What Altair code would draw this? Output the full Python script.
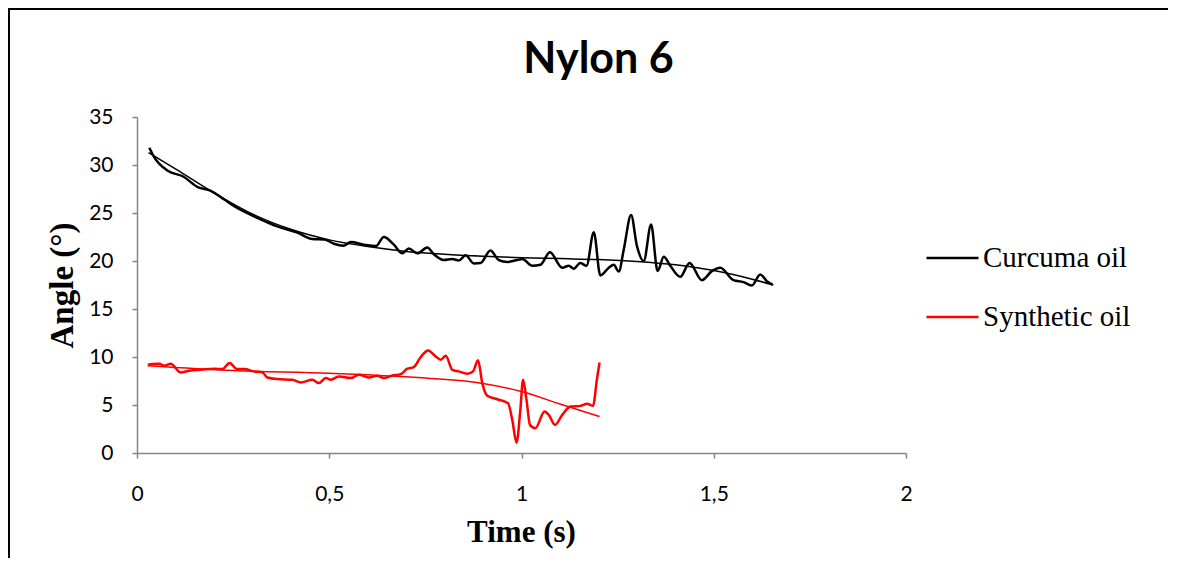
import altair as alt
import pandas as pd

# ---------------- data ----------------
series_names = ["Curcuma oil", "Synthetic oil"]
series_colors = ["#000000", "#FF0000"]

cur_t = [0.032, 0.045, 0.080, 0.120, 0.158, 0.192, 0.227, 0.253, 0.313, 0.365,
         0.417, 0.456, 0.487, 0.512, 0.538, 0.556, 0.590, 0.621, 0.642, 0.668,
         0.690, 0.707, 0.729, 0.755, 0.772, 0.798, 0.820, 0.837, 0.855, 0.876,
         0.894, 0.919, 0.941, 0.963, 0.989, 1.002, 1.028, 1.049, 1.074, 1.106,
         1.123, 1.136, 1.153, 1.169, 1.188, 1.205, 1.227, 1.240, 1.253, 1.266,
         1.285, 1.300, 1.318, 1.337, 1.354, 1.370, 1.387, 1.413, 1.437, 1.469,
         1.495, 1.517, 1.551, 1.577, 1.599, 1.621, 1.638, 1.653]
cur_v = [31.8, 30.8, 29.4, 28.8, 27.7, 27.3, 26.4, 25.7, 24.5, 23.6,
         22.95, 22.3, 22.25, 21.8, 21.6, 21.97, 21.7, 21.55, 22.5, 21.7,
         20.8, 21.3, 20.8, 21.4, 20.7, 20.1, 20.2, 20.06, 20.6, 19.75,
         19.8, 21.1, 20.1, 19.9, 20.1, 20.2, 19.5, 19.6, 20.9, 19.3,
         19.5, 19.2, 19.8, 19.5, 23.0, 18.5, 19.3, 19.6, 18.9, 21.2,
         24.8, 21.6, 20.0, 23.8, 18.95, 20.45, 19.5, 18.35, 19.8, 18.0,
         18.95, 19.3, 18.0, 17.8, 17.45, 18.6, 17.9, 17.55]

syn_t = [0.028, 0.041, 0.058, 0.071, 0.088, 0.113, 0.136, 0.166, 0.201, 0.222,
         0.241, 0.260, 0.279, 0.305, 0.326, 0.339, 0.365, 0.404, 0.426, 0.456,
         0.473, 0.491, 0.504, 0.525, 0.556, 0.577, 0.603, 0.625, 0.642, 0.664,
         0.686, 0.703, 0.720, 0.738, 0.757, 0.777, 0.790, 0.803, 0.820, 0.837,
         0.859, 0.874, 0.887, 0.898, 0.911, 0.937, 0.965, 0.976, 0.987, 0.997,
         1.004, 1.013, 1.022, 1.036, 1.060, 1.071, 1.087, 1.106, 1.127, 1.153,
         1.171, 1.186, 1.196, 1.203]
syn_v = [9.19, 9.26, 9.3, 9.09, 9.3, 8.39, 8.57, 8.67, 8.78, 8.74,
         9.37, 8.74, 8.74, 8.5, 8.4, 7.87, 7.7, 7.63, 7.35, 7.63,
         7.28, 7.8, 7.63, 7.97, 7.8, 8.15, 7.87, 8.05, 7.8, 8.08,
         8.22, 8.78, 8.95, 10.0, 10.69, 10.06, 9.72, 10.13, 8.67, 8.5,
         8.25, 8.5, 9.65, 7.28, 5.96, 5.6, 5.19, 3.45, 1.08, 4.5,
         7.63, 5.54, 2.93, 2.58, 4.32, 3.97, 2.93, 3.97, 4.84, 4.91,
         5.12, 4.91, 7.63, 9.43]

# trend lines
cur_trend_t = [0.03, 0.1, 0.2, 0.3, 0.4, 0.5, 0.6, 0.7, 0.8, 0.9,
               1.0, 1.1, 1.2, 1.3, 1.4, 1.5, 1.6, 1.655]
cur_trend_v = [31.3, 29.6, 27.1, 24.9, 23.3, 22.2, 21.5, 21.0, 20.7, 20.5,
               20.35, 20.25, 20.15, 19.95, 19.6, 19.0, 18.1, 17.5]
syn_trend_t = [0.028, 0.25, 0.5, 0.75, 0.9, 1.0, 1.1, 1.203]
syn_trend_v = [9.1, 8.6, 8.3, 7.8, 7.25, 6.4, 5.1, 3.8]

x_ticks = [0, 0.5, 1, 1.5, 2]
y_ticks = [0, 5, 10, 15, 20, 25, 30, 35]

# ---------------- tables ----------------
raw = pd.DataFrame({
    "t": cur_t + syn_t,
    "v": cur_v + syn_v,
    "series": [series_names[0]] * len(cur_t) + [series_names[1]] * len(syn_t),
})
trend = pd.DataFrame({
    "t": cur_trend_t + syn_trend_t,
    "v": cur_trend_v + syn_trend_v,
    "series": [series_names[0]] * len(cur_trend_t) + [series_names[1]] * len(syn_trend_t),
})
frame_df = pd.DataFrame({"k": [0]})

AXIS_GREY = "#868686"
SANS = "Lato"
SERIF = "Liberation Serif"

x_enc = alt.X(
    "t:Q",
    scale=alt.Scale(domain=[0, 2], nice=False),
    axis=alt.Axis(
        values=x_ticks, title="Time (s)", grid=False, format="~g",
        labelExpr="replace(datum.label, '.', ',')", labelFlush=False,
        labelFont=SANS, labelFontSize=21, labelColor="#000000", labelPadding=25,
        tickSize=5, tickColor=AXIS_GREY, tickWidth=1.5,
        domainColor=AXIS_GREY, domainWidth=1.5,
        titleFont=SERIF, titleFontSize=31, titleFontWeight="bold", titleColor="#000000",
        titleX=384, titleY=88, titleBaseline="alphabetic", titleAlign="center",
    ),
)
y_enc = alt.Y(
    "v:Q",
    scale=alt.Scale(domain=[0, 35], nice=False),
    axis=alt.Axis(
        values=y_ticks, title="Angle (°)", grid=False, labelFlush=False,
        labelFont=SANS, labelFontSize=21, labelColor="#000000", labelPadding=19,
        tickSize=5, tickColor=AXIS_GREY, tickWidth=1.5,
        domainColor=AXIS_GREY, domainWidth=1.5,
        titleFont=SERIF, titleFontSize=33, titleFontWeight="bold", titleColor="#000000",
        titleX=-65, titleY=168, titleAngle=270, titleBaseline="alphabetic", titleAlign="center",
    ),
)
color_enc = alt.Color(
    "series:N",
    scale=alt.Scale(domain=series_names, range=series_colors),
    legend=alt.Legend(
        title=None, orient="none", legendX=788, legendY=121,
        symbolType="stroke", symbolSize=2704, symbolStrokeWidth=2.5,
        labelFont=SERIF, labelFontSize=29, labelColor="#000000",
        labelOffset=3, rowPadding=19, clipHeight=40, padding=0,
    ),
)

# outer chart frame: left and top edges (the rest lies outside the picture)
frame_left = alt.Chart(frame_df).mark_rect(color="#000000").encode(
    x=alt.value(-129), x2=alt.value(-127), y=alt.value(-109), y2=alt.value(445),
)
frame_top = alt.Chart(frame_df).mark_rect(color="#000000").encode(
    x=alt.value(-129), x2=alt.value(1031), y=alt.value(-109), y2=alt.value(-107),
)

raw_lines = alt.Chart(raw).mark_line(strokeWidth=2.5, interpolate="monotone").encode(
    x=x_enc, y=y_enc, color=color_enc
)
trend_lines = alt.Chart(trend).mark_line(strokeWidth=1.5, interpolate="monotone").encode(
    x=x_enc, y=y_enc, color=color_enc
)

chart = alt.layer(frame_left, frame_top, raw_lines, trend_lines).properties(
    width=769, height=336,
    background="white",
    title=alt.TitleParams(
        text="Nylon 6", font=SANS, fontSize=43, fontWeight="bold", color="#000000",
        anchor="middle", frame="group", dx=77, offset=0, dy=108, baseline="alphabetic",
    ),
    autosize=alt.AutoSizeParams(type="none"),
    padding={"left": 129, "top": 109, "right": 262, "bottom": 105},
).configure_view(strokeWidth=0, stroke="transparent")

chart.save("out.html", embed_options={"renderer": "svg", "actions": False})
